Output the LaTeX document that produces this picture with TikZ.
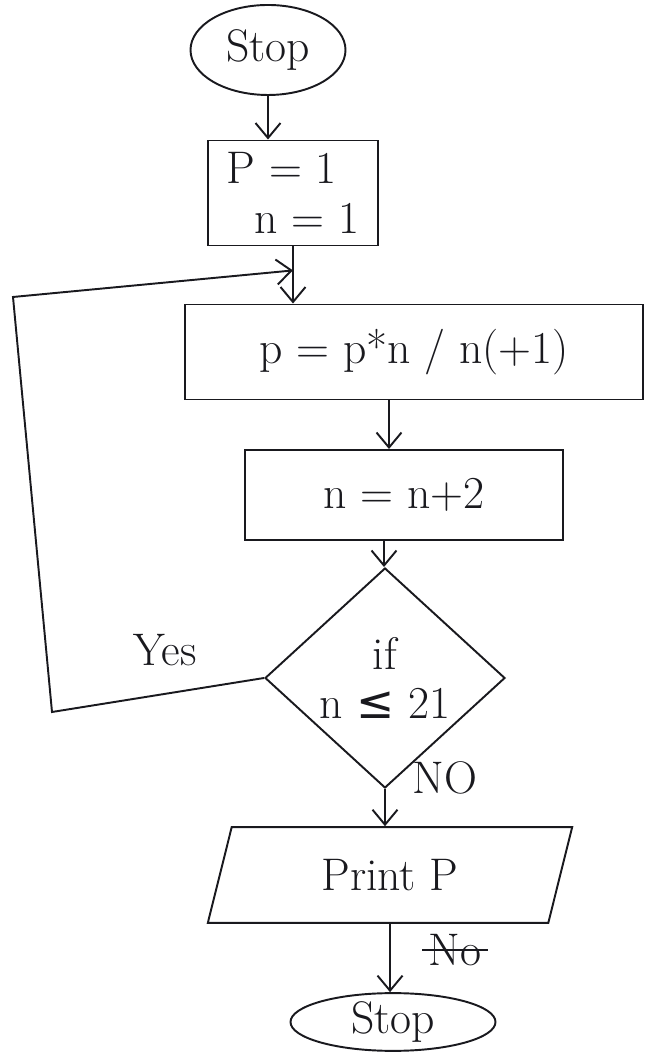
\documentclass[tikz,border=0pt]{standalone}
\usepackage{fontspec}
\newfontfamily\symfont{DejaVu Sans}
\usetikzlibrary{shapes.geometric,calc,positioning,arrows.meta}
\definecolor{ink}{RGB}{25, 25, 30}

\begin{document}
\begin{tikzpicture}[>={Straight Barb[length=3mm,width=5mm]}, color=ink,
  every node/.style={font=\fontsize{26}{30}\selectfont},
  terminal/.style={draw, ellipse, line width=1.1pt, inner sep=0pt},
  procbox/.style={draw, rectangle, line width=1.1pt, inner sep=4pt},
  decision/.style={draw, diamond, line width=1.1pt, inner sep=0pt, aspect=1.1},
  iobox/.style={draw, trapezium, line width=1.1pt, trapezium left angle=76,
                trapezium right angle=104, inner sep=4pt},
  flow/.style={->, line width=1.1pt}]

  % --- Canvas ---
  \useasboundingbox (0,0) rectangle (12.92,21.22);

  % --- Start terminal ---
  \node[terminal, minimum width=3.1cm, minimum height=1.8cm] (start) at (5.36,20.22) {Stop};

  % --- Initialisation ---
  \node[procbox, minimum width=3.4cm, minimum height=2.1cm, align=left] (init) at (5.86,17.36)
    {P = 1\\[-2pt]\ \ n = 1};

  % --- Product step ---
  \node[procbox, minimum width=9.16cm, minimum height=1.9cm] (prod) at (8.28,14.18)
    {p = p*n / n(+1)};

  % --- Increment ---
  \node[procbox, minimum width=6.36cm, minimum height=1.8cm] (incr) at (8.08,11.32)
    {n = n+2};

  % --- Test ---
  \node[decision, minimum width=4.8cm, minimum height=4.4cm, align=center] (test) at (7.7,7.66)
    {if\\[-2pt]n {\symfont ≤} 21};
  \node (yes) at (3.3,8.22) {Yes};
  \node (no) at (8.9,5.66) {NO};

  % --- Output ---
  \node[iobox, minimum width=7.3cm, minimum height=1.6cm] (print) at (7.8,3.72) {Print P};
  \node (nox) at (9.1,2.22) {No};
  \draw[line width=1pt] (nox.west) -- (nox.east);

  % --- End terminal ---
  \node[terminal, minimum width=4.1cm, minimum height=1.1cm] (stop) at (7.86,0.78) {Stop};

  % --- Connectors ---
  \draw[flow] (start.south) -- (start.south |- init.north);
  \coordinate (join) at ($(init.south)!0.42!(init.south |- prod.north)$);
  \draw[flow] (init.south) -- (init.south |- prod.north);
  \draw[flow] (prod.south -| incr.north) ++(-0.3,0) coordinate (ps) -- (ps |- incr.north);
  \draw[flow] (incr.south) ++(-0.4,0) coordinate (is) -- (is |- test.north);
  \draw[flow] (test.south) -- (test.south |- print.north);
  \draw[flow] (print.south) -- (print.south |- stop.north);

  % --- Loop back ---
  \coordinate (lowleft) at (1.04,6.98);
  \coordinate (upleft) at (0.26,15.28);
  \draw[flow] (test.west) -- (lowleft) -- (upleft) -- (join);

\end{tikzpicture}
\end{document}
